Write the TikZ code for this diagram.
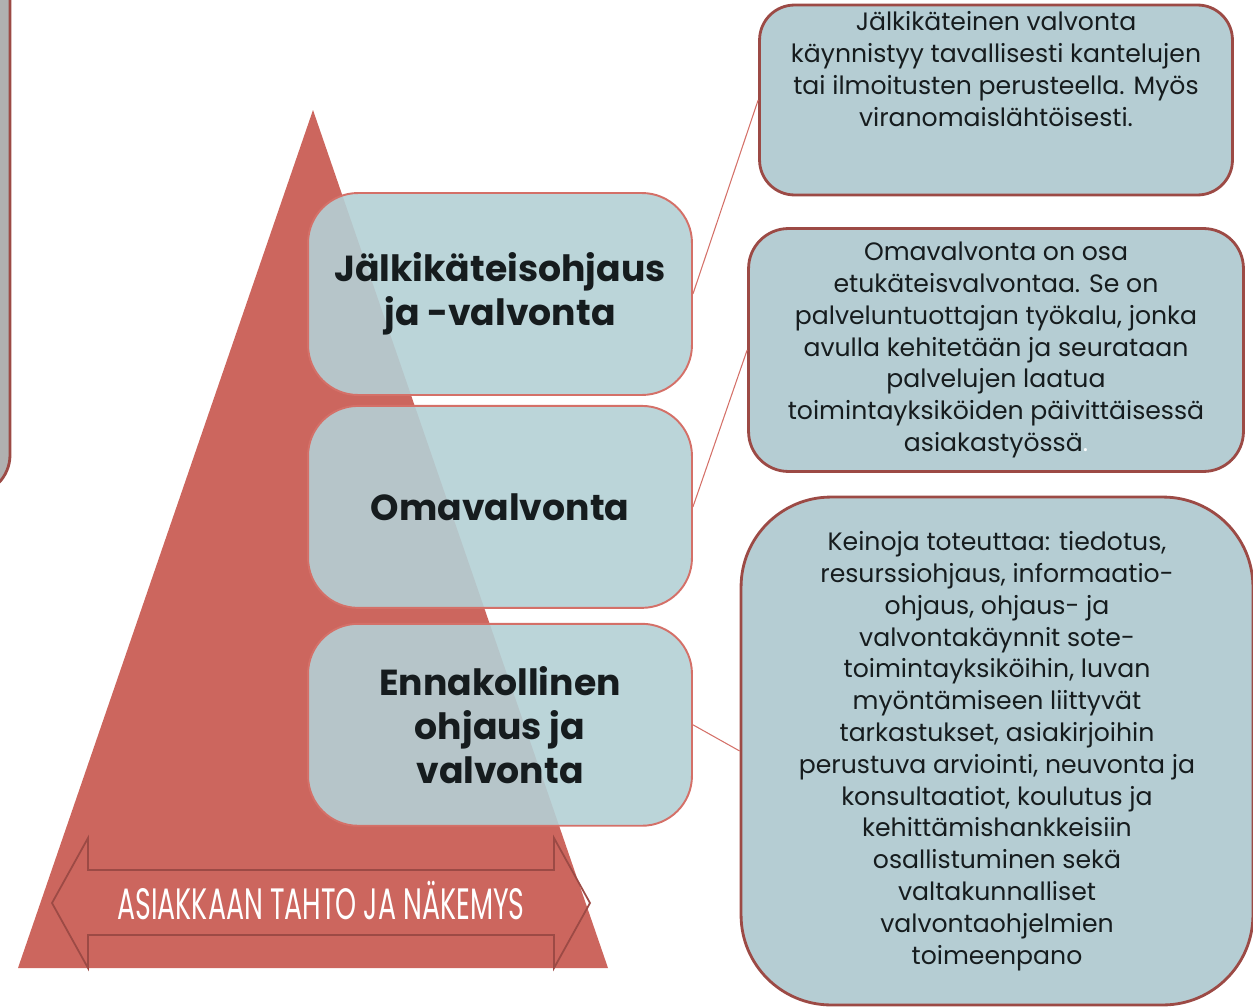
\documentclass[tikz,border=0pt]{standalone}
\usepackage{fontspec}
\setmainfont{Poppins}
\newfontfamily\narrowfont{Poppins}[FakeStretch=0.61]
\usetikzlibrary{positioning}

\definecolor{pyramid}{RGB}{204,102,94}
\definecolor{levelfill}{RGB}{180,208,213}
\definecolor{infofill}{RGB}{181,205,211}
\definecolor{levelline}{RGB}{212,112,104}
\definecolor{infoline}{RGB}{156,74,69}
\definecolor{greypanel}{RGB}{176,176,176}
\definecolor{ink}{RGB}{22,28,30}

\tikzset{
  level/.style={draw=levelline, line width=1.1pt, fill=levelfill, fill opacity=0.9, text opacity=1,
    rounded corners=1cm, minimum width=7.68cm, minimum height=4.04cm, align=center,
    font=\fontsize{20.6}{25}\selectfont\bfseries, text=ink},
  info/.style={draw=infoline, line width=1.6pt, fill=infofill, align=center,
    font=\fontsize{14.3}{18.1}\selectfont, text=ink},
  link/.style={draw=levelline, line width=0.6pt},
}

\begin{document}
\begin{tikzpicture}[x=0.02cm, y=-0.02cm]
  \useasboundingbox (0,0) rectangle (1253,1007);
  % grey panel cut off by the left edge
  \begin{scope}
    \clip (0,0) rectangle (1253,1007);
    \draw[infoline, line width=1.6pt, fill=greypanel, rounded corners=0.8cm] (-60,-40) rectangle (10,495);
  \end{scope}
  % pyramid and arrow
  \fill[pyramid] (313,110) -- (608,968) -- (18,968) -- cycle;
  \draw[infoline, line width=1pt] (52,903) -- (88,838) -- (88,870) -- (554,870) -- (554,838)
    -- (590,903) -- (554,968) -- (554,935) -- (88,935) -- (88,968) -- cycle;
  \node[text=white] (tahto) at (321,900)
    {\narrowfont\fontsize{25}{25}\selectfont ASIAKKAAN TAHTO JA NÄKEMYS};

  % levels
  \node[level] (jalki) at (500,294) {Jälkikäteisohjaus\\ja -valvonta};
  \node[level, below=0.18cm of jalki] (oma) {Omavalvonta};
  \node[level, below=0.28cm of oma] (enna) {Ennakollinen\\ohjaus ja\\valvonta};

  % descriptions
  \node[info, minimum width=9.46cm, minimum height=3.8cm, rounded corners=0.7cm] (jalkiinfo) at (996,100)
    {Jälkikäteinen valvonta\\käynnistyy tavallisesti kantelujen\\tai ilmoitusten perusteella. Myös\\viranomaislähtöisesti.\\[0.6cm]~};
  \node[info, minimum width=9.9cm, minimum height=4.86cm, rounded corners=0.8cm] (omainfo) at (996,350)
    {Omavalvonta on osa\\etukäteisvalvontaa. Se on\\palveluntuottajan työkalu, jonka\\avulla kehitetään ja seurataan\\palvelujen laatua\\toimintayksiköiden päivittäisessä\\asiakastyössä{\color{white}.}};
  \node[info, minimum width=10.24cm, minimum height=10.16cm, rounded corners=1.8cm] (ennainfo) at (997,751)
    {Keinoja toteuttaa: tiedotus,\\resurssiohjaus, informaatio-\\ohjaus, ohjaus- ja\\valvontakäynnit sote-\\toimintayksiköihin, luvan\\myöntämiseen liittyvät\\tarkastukset, asiakirjoihin\\perustuva arviointi, neuvonta ja\\konsultaatiot, koulutus ja\\kehittämishankkeisiin\\osallistuminen sekä\\valtakunnalliset\\valvontaohjelmien\\toimeenpano};

  \draw[link] (jalki.east) -- (jalkiinfo.west);
  \draw[link] (oma.east) -- (omainfo.west);
  \draw[link] (enna.east) -- (ennainfo.west);
\end{tikzpicture}
\end{document}
